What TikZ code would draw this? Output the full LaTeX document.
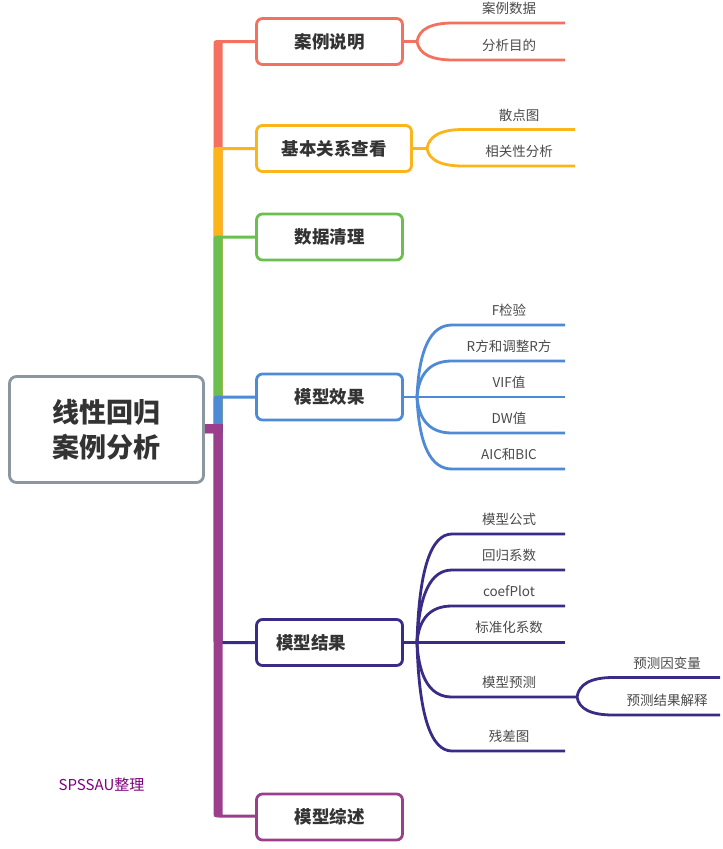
\documentclass[tikz,border=0pt]{standalone}
\usepackage{fontspec}
\setmainfont{Noto Sans CJK SC}
\definecolor{cred}{HTML}{F4715F}
\definecolor{corange}{HTML}{FBB41A}
\definecolor{cgreen}{HTML}{6BBF4E}
\definecolor{cblue}{HTML}{4F8AD6}
\definecolor{cnavy}{HTML}{3A2C86}
\definecolor{cpurple}{HTML}{9B3F8C}
\definecolor{cgray}{HTML}{8C96A0}
\definecolor{ctext}{HTML}{333333}
\definecolor{csub}{HTML}{4A4A4A}
\definecolor{cmark}{HTML}{800080}
% upward main branch: colour, Y
\newcommand\brup[2]{\fill[#1] (205,424) -- (213.5,424) -- (213.5,#2-1.5+7) .. controls (213.5,#2-1.5) .. (220.5,#2-1.5) -- (258,#2-1.5) -- (258,#2+1.5) -- (222.5,#2+1.5) -- (222.5,433) -- (205,433) -- cycle;}
% downward main branch: colour, Y
\newcommand\brdown[2]{\fill[#1] (205,424) -- (222.5,424) -- (222.5,#2-1.5) -- (258,#2-1.5) -- (258,#2+1.5) -- (220.5,#2+1.5) .. controls (213.5,#2+1.5) .. (213.5,#2+1.5-7) -- (213.5,433) -- (205,433) -- cycle;}
% sub branch: colour, fork name, fork x, fork y, hx, ey, endx (quadratic curve, control at (fx+3,ey))
\newcommand\subbr[7]{\draw[lnk=#1] (#2) .. controls (#3+2,{(#4+2*#6)/3}) and ({(#5+2*#3+6)/3},#6) .. (#5,#6) -- (#7,#6);}
\begin{document}
\begin{tikzpicture}[x=1pt,y=-1pt,
  topic/.style={draw=#1, line width=2.8pt, rounded corners=6pt, fill=white,
    minimum width=146pt, minimum height=46pt, inner sep=0pt,
    font=\fontsize{17.5}{20}\selectfont\bfseries, text=ctext},
  sub/.style={font=\fontsize{13.5}{15}\selectfont, text=csub, inner sep=0pt},
  lnk/.style={draw=#1, line width=2.8pt},
]
\useasboundingbox (0,0) rectangle (723,849);
\fill[white] (0,0) rectangle (723,849);

% main branches (drawn in order, later on top)
\brup{cred}{41.5}
\brup{corange}{148.5}
\brup{cgreen}{237}
\brup{cblue}{397}
\brdown{cnavy}{642.5}
\brdown{cpurple}{816}

% root
\node[draw=cgray, line width=2.8pt, rounded corners=7pt, fill=white,
  minimum width=194pt, minimum height=106pt, align=center, inner sep=0pt,
  font=\fontsize{27}{35}\selectfont\bfseries, text=ctext] (root) at (106.5,429.5) {线性回归\\案例分析};

% topics
\node[topic=cred] (t1) at (329.5,41.5) {案例说明};
\node[topic=corange, minimum width=155pt] (t2) at (334,148.5) {基本关系查看};
\node[topic=cgreen] (t3) at (329.5,237) {数据清理};
\node[topic=cblue] (t4) at (329.5,397) {模型效果};
\node[topic=cnavy] (t5) at (329.5,642.5) {模型结果\hspace*{37pt}};
\node[topic=cpurple] (t6) at (329.5,817) {模型综述};

% forks
\coordinate (f1) at (417,41.5);
\coordinate (f2) at (427,148.5);
\coordinate (f4) at (417,397);
\coordinate (f5) at (417,642.5);
\coordinate (f6) at (577,697);
\draw[lnk=cred] (t1.east) -- (f1);
\draw[lnk=corange] (t2.east) -- (f2);
\draw[lnk=cblue] (t4.east) -- (f4);
\draw[lnk=cnavy] (t5.east) -- (f5);

% group 1
\subbr{cred}{f1}{417}{41.5}{453}{23}{565}
\subbr{cred}{f1}{417}{41.5}{453}{60}{565}
\node[sub] (a1) at (509,8.5) {案例数据};
\node[sub] (a2) at (509,45.5) {分析目的};

% group 2
\subbr{corange}{f2}{427}{148.5}{463}{129.5}{575}
\subbr{corange}{f2}{427}{148.5}{463}{166}{575}
\node[sub] (b1) at (519,115) {散点图};
\node[sub] (b2) at (519,151.5) {相关性分析};

% group 4
\subbr{cblue}{f4}{417}{397}{452}{325}{565}
\subbr{cblue}{f4}{417}{397}{452}{361}{565}
\draw[lnk=cblue] (f4) -- (565,397);
\subbr{cblue}{f4}{417}{397}{452}{433}{565}
\subbr{cblue}{f4}{417}{397}{452}{469}{565}
\node[sub] (c1) at (509,310.5) {F检验};
\node[sub] (c2) at (509,346.5) {R方和调整R方};
\node[sub] (c3) at (509,382.5) {VIF值};
\node[sub] (c4) at (509,418.5) {DW值};
\node[sub] (c5) at (509,454.5) {AIC和BIC};

% group 5
\subbr{cnavy}{f5}{417}{642.5}{452}{534}{565}
\subbr{cnavy}{f5}{417}{642.5}{452}{570}{565}
\subbr{cnavy}{f5}{417}{642.5}{452}{606}{565}
\draw[lnk=cnavy] (f5) -- (565,642.5);
\subbr{cnavy}{f5}{417}{642.5}{452}{697}{577}
\subbr{cnavy}{f5}{417}{642.5}{452}{751}{565}
\node[sub] (d1) at (509,519) {模型公式};
\node[sub] (d2) at (509,555) {回归系数};
\node[sub] (d3) at (509,591) {coefPlot};
\node[sub] (d4) at (509,627.5) {标准化系数};
\node[sub] (d5) at (509,682) {模型预测};
\node[sub] (d6) at (509,736.5) {残差图};

% group 6
\subbr{cnavy}{f6}{577}{697}{613}{677.5}{720}
\subbr{cnavy}{f6}{577}{697}{613}{715}{720}
\node[sub] (e1) at (667,663) {预测因变量};
\node[sub] (e2) at (667,700.5) {预测结果解释};

% watermark
\node[font=\fontsize{15}{17}\selectfont, text=cmark, inner sep=0pt] (wm) at (101.5,785) {SPSSAU整理};
\end{tikzpicture}
\end{document}
